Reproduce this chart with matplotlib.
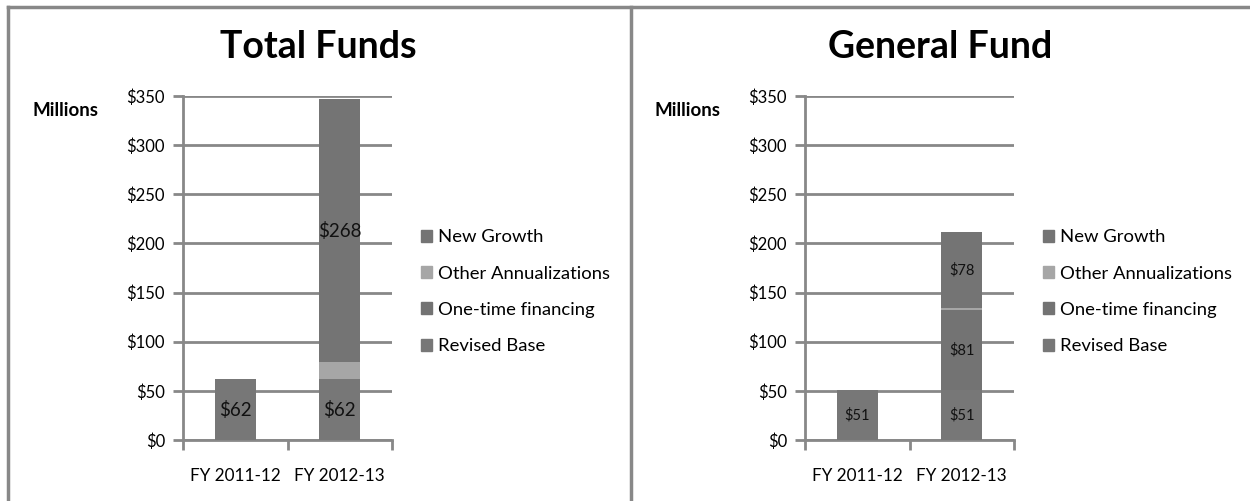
import matplotlib.pyplot as plt
from matplotlib.lines import Line2D
from matplotlib.patches import Patch

years = ["FY 2011-12", "FY 2012-13"]
series = ["Revised Base", "One-time financing", "Other Annualizations", "New Growth"]

# Total Funds, millions
total_base = [62, 62]
total_onetime = [0, 0]
total_annual = [0, 17]
total_growth = [0, 268]

# General Fund, millions
gf_base = [51, 51]
gf_onetime = [0, 81]
gf_annual = [0, 2]
gf_growth = [0, 78]

colors = {"Revised Base": "#777777", "One-time financing": "#737373",
          "Other Annualizations": "#a6a6a6", "New Growth": "#747474"}

W, H = 1250, 501
plt.rcParams['font.family'] = ['Lato', 'DejaVu Sans']

fig = plt.figure(figsize=(W / 100, H / 100), dpi=100)


def px(x0, y0, x1, y1):
    # pixel box -> figure fraction [left, bottom, width, height]
    return [x0 / W, 1 - y1 / H, (x1 - x0) / W, (y1 - y0) / H]


def draw_panel(off, title, base, onetime, annual, growth, lblsize, labels):
    ax = fig.add_axes(px(183 + off, 96, 392 + off, 440))
    xs = range(len(years))
    bottom = [0, 0]
    for name, vals in [("Revised Base", base), ("One-time financing", onetime),
                       ("Other Annualizations", annual), ("New Growth", growth)]:
        ax.bar(xs, vals, width=0.39, bottom=bottom, color=colors[name], zorder=3)
        bottom = [b + v for b, v in zip(bottom, vals)]
    # data labels
    for i, seg, val in labels:
        ax.text(i, seg, "$%d" % val, ha="center", va="center",
                fontsize=lblsize, color="#111111", zorder=4)
    ax.set_xlim(-0.5, 1.5)
    ax.set_ylim(0, 350)
    ax.set_yticks(range(0, 351, 50))
    ax.set_yticklabels(["$%d" % v for v in range(0, 351, 50)], fontsize=12)
    ax.set_xticks([-0.5, 0.5, 1.5])
    ax.set_xticklabels([])
    ax.set_xticks([0, 1], minor=True)
    ax.set_xticklabels(years, minor=True, fontsize=12.3)
    ax.tick_params(axis="x", which="minor", length=0, pad=20)
    ax.tick_params(axis="x", which="major", length=7, width=2, color="#888888")
    ax.tick_params(axis="y", length=7, width=2, color="#888888", pad=6)
    ax.grid(axis="y", color="#888888", linewidth=2, zorder=1)
    for s in ["top", "right"]:
        ax.spines[s].set_visible(False)
    ax.spines["left"].set_color("#888888")
    ax.spines["left"].set_linewidth(2)
    ax.spines["bottom"].set_color("#888888")
    ax.spines["bottom"].set_linewidth(2)
    ax.set_axisbelow(True)

    fig.text((318 + off) / W, 1 - 47 / H, title, ha="center", va="center",
             fontsize=27, fontweight="bold")
    fig.text((32 + off) / W, 1 - 110 / H, "Millions", ha="left", va="center",
             fontsize=13.5, fontweight="bold")

    handles = [Patch(color=colors[n]) for n in ["New Growth", "Other Annualizations",
                                                "One-time financing", "Revised Base"]]
    fig.legend(handles, ["New Growth", "Other Annualizations",
                         "One-time financing", "Revised Base"],
               loc="upper left", bbox_to_anchor=((412 + off) / W, 1 - 220 / H),
               frameon=False, fontsize=13.3, handlelength=0.6, handleheight=0.6,
               handletextpad=0.3, labelspacing=1.1, borderpad=0)


draw_panel(0, "Total Funds", total_base, total_onetime, total_annual, total_growth,
           13.5, [(0, 31, 62), (1, 31, 62), (1, 79 + 134, 268)])
draw_panel(622, "General Fund", gf_base, gf_onetime, gf_annual, gf_growth,
           10.5, [(0, 25.5, 51), (1, 25.5, 51), (1, 51 + 40.5, 81), (1, 134 + 39, 78)])

# panel borders
border = "#888888"
fig.add_artist(Line2D([8 / W, 1], [1 - 7 / H] * 2, color=border, lw=2.5))
fig.add_artist(Line2D([8 / W] * 2, [0, 1 - 7 / H], color=border, lw=2.5))
fig.add_artist(Line2D([631 / W] * 2, [0, 1 - 7 / H], color=border, lw=2.5))

fig.savefig("out.png", dpi=100)
